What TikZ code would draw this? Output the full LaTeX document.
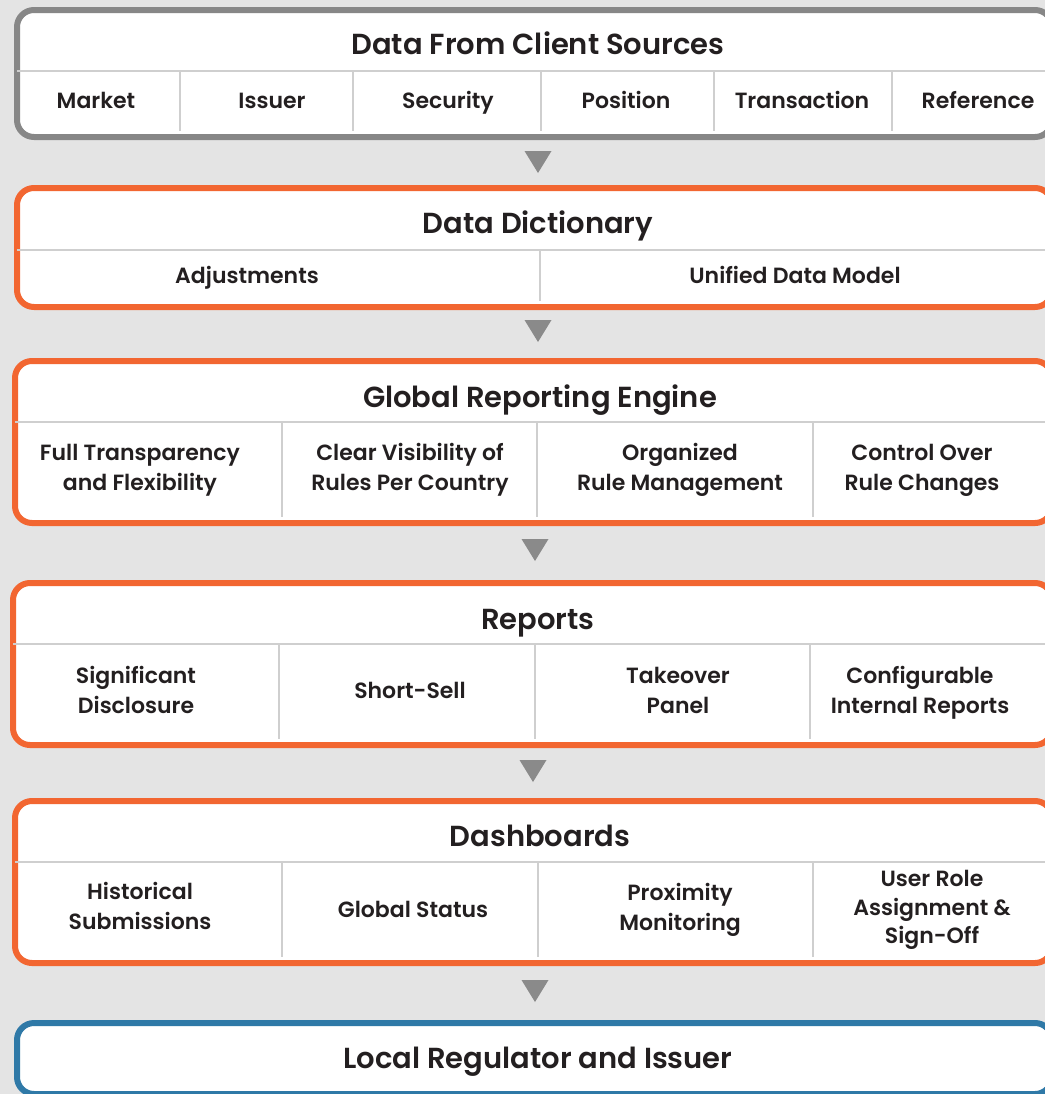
\documentclass[tikz,border=0pt]{standalone}
\usepackage{fontspec}
\setmainfont{Poppins}[BoldFont={Poppins SemiBold}]
\usetikzlibrary{calc}

\definecolor{bggray}{HTML}{E4E4E4}
\definecolor{framegray}{HTML}{878787}
\definecolor{frameorange}{HTML}{F26631}
\definecolor{frameblue}{HTML}{2F79A7}
\definecolor{rulegray}{HTML}{CFCFCF}
\definecolor{inkblack}{HTML}{231F20}
\definecolor{tipgray}{HTML}{8A8A8A}

\begin{document}
\begin{tikzpicture}[x=1bp, y=-1bp,
  panel/.style={draw=#1, line width=6bp, rounded corners=17bp, fill=white, anchor=north west, inner sep=0pt},
  divider/.style={draw=rulegray, line width=1.5bp},
  headtext/.style={text=inkblack, text height=22bp, text depth=1bp, font=\fontsize{29bp}{34bp}\selectfont\bfseries},
  celltext/.style={text=inkblack, align=center, font=\fontsize{22bp}{30bp}\selectfont\bfseries},
  oneline/.style={celltext, text height=17bp, text depth=1bp},
  downtip/.pic={\fill[tipgray] (-13.5,-11) -- (13.5,-11) -- (0,11) -- cycle;}]

\useasboundingbox (0,0) rectangle (1045,1094);
\fill[bggray] (0,0) rectangle (1045,1094);

% client sources
\node[panel=framegray, minimum width=1035bp, minimum height=127bp] (src) at (14,7) {};
\draw[divider] (17,71) -- (1046,71);
\foreach \x in {180,353,541,714,892} \draw[divider] (\x,71) -- (\x,131);
\node[headtext] (srctitle) at (538,44) {Data From Client Sources};
\node[oneline] (market) at (96,100) {Market};
\node[oneline] (issuer) at (272,100) {Issuer};
\node[oneline] (security) at (448,100) {Security};
\node[oneline] (position) at (626,100) {Position};
\node[oneline] (transaction) at (802,100) {Transaction};
\node[oneline] (reference) at (978,100) {Reference};

\pic at (538,162) {downtip};

% dictionary
\node[panel=frameorange, minimum width=1035bp, minimum height=119bp] (dict) at (14,185) {};
\draw[divider] (17,250) -- (1046,250);
\draw[divider] (540,250) -- (540,301);
\node[headtext] (dicttitle) at (538,223) {Data Dictionary};
\node[oneline] (adjust) at (247,275) {Adjustments};
\node[oneline] (unified) at (795,275) {Unified Data Model};

\pic at (538,331) {downtip};

% engine
\node[panel=frameorange, minimum width=1037bp, minimum height=162bp] (engine) at (12,358) {};
\draw[divider] (15,422) -- (1046,422);
\foreach \x in {282,537,813} \draw[divider] (\x,422) -- (\x,517);
\node[headtext] (enginetitle) at (540,397) {Global Reporting Engine};
\node[celltext] (transp) at (140,470) {Full Transparency\\and Flexibility};
\node[celltext] (visib) at (410,470) {Clear Visibility of\\Rules Per Country};
\node[celltext] (organ) at (680,470) {Organized\\Rule Management};
\node[celltext] (control) at (922,470) {Control Over\\Rule Changes};

\pic at (535,550) {downtip};

% reports
\node[panel=frameorange, minimum width=1039bp, minimum height=162bp] (reports) at (10,580) {};
\draw[divider] (13,644) -- (1046,644);
\foreach \x in {279,535,810} \draw[divider] (\x,644) -- (\x,739);
\node[headtext] (reporttitle) at (538,619) {Reports};
\node[celltext] (signif) at (136,690) {Significant\\Disclosure};
\node[oneline] (short) at (410,690) {Short-Sell};
\node[celltext] (takeover) at (678,690) {Takeover\\Panel};
\node[celltext] (config) at (920,693) {Configurable\\Internal Reports};

\pic at (533,771) {downtip};

% dashboards
\node[panel=frameorange, minimum width=1037bp, minimum height=162bp] (dash) at (12,798) {};
\draw[divider] (15,862) -- (1046,862);
\foreach \x in {282,538,813} \draw[divider] (\x,862) -- (\x,957);
\node[headtext] (dashtitle) at (540,836) {Dashboards};
\node[celltext] (histor) at (140,906) {Historical\\Submissions};
\node[oneline] (status) at (413,909) {Global Status};
\node[celltext] (proxim) at (680,910) {Proximity\\Monitoring};
\node[celltext, font=\fontsize{22bp}{28.5bp}\selectfont\bfseries] (roles) at (932,910) {User Role\\Assignment \&\\Sign-Off};

\pic at (535,991) {downtip};

% regulator
\node[panel=frameblue, minimum width=1035bp, minimum height=71bp] (regul) at (14,1020) {};
\node[headtext] (regultitle) at (538,1058) {Local Regulator and Issuer};

\end{tikzpicture}
\end{document}
